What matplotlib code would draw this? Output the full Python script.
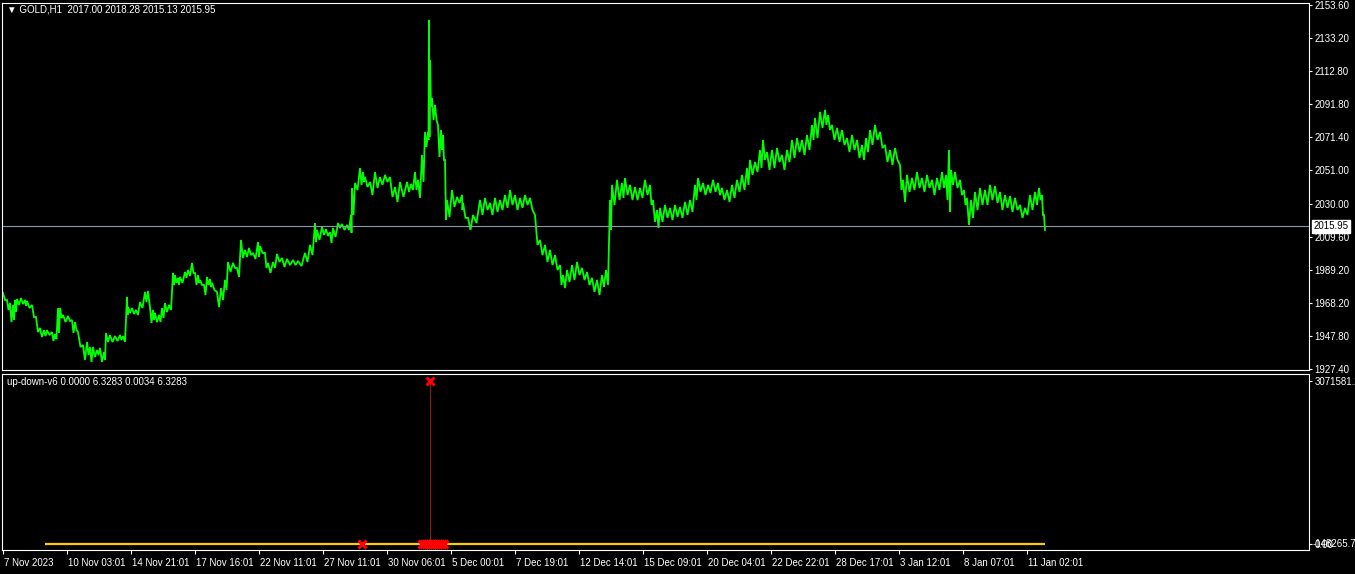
import matplotlib
matplotlib.use("Agg")
from matplotlib import pyplot as plt
import matplotlib.transforms as mtransforms
import numpy as np

plt.rcParams['font.family'] = ['Liberation Sans', 'DejaVu Sans']

# GOLD H1 price: bar where a run starts, its high and low
bar_start = [3, 7, 10, 13, 15, 17, 21, 25, 27, 32, 36, 40, 44, 47, 52, 55, 58, 60, 63, 68,
             72, 75, 78, 83, 87, 90, 93, 97, 100, 104, 106, 110, 115, 120, 123, 127, 128, 132, 136, 140,
             145, 148, 150, 153, 155, 159, 162, 165, 169, 173, 175, 178, 180, 185, 188, 192, 195, 198, 200, 204,
             207, 210, 212, 217, 221, 225, 228, 233, 237, 241, 245, 249, 253, 258, 260, 265, 268, 273, 277, 282,
             287, 293, 298, 305, 310, 315, 317, 322, 326, 330, 333, 338, 342, 347, 351, 352, 355, 360, 363, 365,
             370, 375, 380, 385, 390, 395, 400, 407, 411, 415, 418, 422, 425, 428, 429, 430, 432, 435, 438, 441,
             443, 445, 447, 452, 457, 462, 463, 468, 473, 480, 485, 490, 495, 500, 505, 510, 515, 520, 525, 530,
             535, 540, 545, 550, 555, 560, 563, 567, 572, 577, 582, 587, 592, 597, 602, 606, 610, 612, 617, 622,
             625, 630, 635, 640, 645, 650, 653, 657, 660, 665, 670, 675, 680, 685, 690, 695, 698, 703, 708, 713,
             718, 722, 727, 732, 737, 742, 747, 750, 755, 760, 763, 767, 772, 777, 782, 787, 792, 797, 802, 807,
             812, 815, 820, 825, 828, 832, 837, 842, 847, 852, 857, 862, 866, 870, 875, 880, 885, 890, 895, 900,
             903, 907, 912, 917, 922, 927, 932, 937, 942, 946, 949, 951, 955, 960, 964, 967, 971, 975, 980, 985,
             990, 995, 1000, 1005, 1010, 1015, 1020, 1025, 1030, 1035, 1039, 1042, 1044]
high = [1974.6, 1970.3, 1968.4, 1967.2, 1970.3, 1970.9, 1971.5, 1970.3, 1969.7, 1967.2,
        1959.7, 1952.9, 1951.6, 1951.6, 1950.4, 1949.1, 1965.3, 1965.3, 1961.0, 1960.3,
        1957.9, 1956.6, 1950.4, 1942.3, 1944.2, 1941.1, 1941.1, 1939.2, 1940.5, 1937.9,
        1949.8, 1948.5, 1947.9, 1948.5, 1947.9, 1972.2, 1965.9, 1965.3, 1964.1, 1969.0,
        1975.3, 1975.9, 1965.9, 1964.1, 1962.2, 1961.0, 1965.3, 1968.4, 1967.2, 1987.1,
        1985.8, 1984.0, 1984.6, 1987.7, 1988.9, 1993.3, 1987.1, 1985.8, 1982.7, 1979.6,
        1984.6, 1983.3, 1980.9, 1975.3, 1977.7, 1982.7, 1993.9, 1993.3, 1990.2, 2007.6,
        2001.4, 2002.6, 1999.5, 2006.3, 2003.8, 1999.5, 1993.3, 1993.9, 1998.9, 1996.4,
        1995.8, 1995.1, 1994.5, 1999.5, 2004.5, 2018.1, 2013.8, 2015.6, 2014.4, 2012.5,
        2015.0, 2018.1, 2017.5, 2016.9, 2023.1, 2039.9, 2043.0, 2052.3, 2049.8, 2046.7,
        2043.6, 2049.8, 2046.7, 2048.0, 2046.7, 2040.5, 2043.6, 2043.6, 2042.4, 2049.8,
        2044.9, 2060.4, 2074.7, 2074.7, 2144.3, 2119.4, 2095.8, 2091.4, 2079.0, 2075.9,
        2072.8, 2057.3, 2032.4, 2038.6, 2034.3, 2035.5, 2030.6, 2021.3, 2023.1, 2032.4,
        2033.7, 2030.6, 2033.7, 2032.4, 2035.5, 2038.6, 2035.5, 2033.7, 2035.5, 2033.7,
        2023.1, 2007.6, 2004.5, 2001.4, 1998.2, 1992.0, 1985.8, 1988.9, 1992.0, 1993.9,
        1990.2, 1987.7, 1984.0, 1982.7, 1985.8, 1988.9, 2032.4, 2041.8, 2044.9, 2043.0,
        2046.1, 2041.8, 2040.5, 2039.9, 2044.9, 2041.8, 2032.4, 2026.2, 2027.5, 2029.3,
        2027.5, 2029.3, 2028.1, 2031.2, 2032.4, 2041.8, 2046.1, 2043.0, 2041.8, 2044.9,
        2043.0, 2039.9, 2038.6, 2041.8, 2044.9, 2048.0, 2052.3, 2057.3, 2056.0, 2063.5,
        2069.7, 2062.2, 2063.5, 2064.7, 2060.4, 2063.5, 2069.7, 2070.9, 2069.7, 2072.8,
        2079.0, 2083.4, 2087.1, 2088.4, 2085.2, 2079.0, 2077.2, 2075.9, 2070.9, 2072.8,
        2069.7, 2066.6, 2070.9, 2075.9, 2079.0, 2074.7, 2066.6, 2063.5, 2064.7, 2054.2,
        2044.9, 2048.0, 2046.1, 2049.8, 2046.1, 2048.0, 2044.9, 2046.1, 2049.8, 2048.0,
        2063.5, 2051.1, 2049.8, 2044.9, 2038.6, 2033.7, 2032.4, 2037.4, 2039.9, 2038.6,
        2041.8, 2041.1, 2037.4, 2035.5, 2034.9, 2033.7, 2029.3, 2027.5, 2035.5, 2037.4,
        2039.9, 2035.5, 2023.1]
low = [1970.3, 1964.1, 1956.6, 1957.9, 1962.8, 1967.2, 1967.8, 1966.6, 1965.3, 1959.7,
       1950.4, 1947.3, 1947.9, 1948.5, 1944.8, 1946.0, 1949.8, 1959.1, 1956.6, 1957.2,
       1949.8, 1951.6, 1941.1, 1933.0, 1936.1, 1931.8, 1934.9, 1936.1, 1931.8, 1933.0,
       1944.2, 1944.2, 1944.8, 1945.4, 1944.2, 1961.0, 1962.2, 1961.6, 1961.0, 1965.3,
       1969.0, 1970.3, 1956.0, 1957.9, 1956.6, 1956.6, 1959.1, 1962.8, 1964.1, 1979.6,
       1980.9, 1979.6, 1980.9, 1984.0, 1985.2, 1987.1, 1979.6, 1980.9, 1979.6, 1973.4,
       1979.6, 1978.4, 1976.5, 1965.9, 1970.3, 1976.5, 1987.7, 1990.2, 1984.6, 1996.4,
       1997.0, 1998.2, 1995.8, 1997.0, 1999.5, 1990.2, 1987.1, 1990.2, 1993.9, 1990.8,
       1992.0, 1992.0, 1991.4, 1993.9, 1998.2, 2006.3, 2007.6, 2010.7, 2010.1, 2005.7,
       2009.4, 2015.0, 2013.8, 2013.8, 2012.0, 2023.1, 2038.6, 2041.8, 2043.6, 2040.5,
       2035.5, 2039.9, 2041.8, 2043.6, 2034.3, 2031.2, 2034.3, 2037.4, 2038.6, 2038.6,
       2033.7, 2043.6, 2065.4, 2069.7, 2071.6, 2090.2, 2082.1, 2082.1, 2059.1, 2063.5,
       2057.3, 2020.0, 2021.9, 2028.1, 2030.6, 2026.2, 2021.3, 2013.8, 2018.1, 2023.1,
       2026.2, 2023.1, 2025.0, 2026.2, 2027.5, 2029.3, 2026.2, 2027.5, 2029.3, 2026.2,
       2004.5, 1998.2, 1993.9, 1992.0, 1988.9, 1979.6, 1977.7, 1981.5, 1982.7, 1985.8,
       1982.7, 1979.6, 1975.3, 1973.4, 1978.4, 1979.6, 2013.8, 2029.3, 2032.4, 2033.7,
       2035.5, 2032.4, 2032.4, 2033.7, 2035.5, 2029.3, 2018.8, 2015.0, 2018.8, 2021.3,
       2020.0, 2021.9, 2021.3, 2023.1, 2025.0, 2032.4, 2037.4, 2035.5, 2036.8, 2037.4,
       2035.5, 2032.4, 2031.2, 2033.7, 2037.4, 2038.6, 2041.8, 2048.0, 2049.8, 2052.3,
       2057.3, 2051.1, 2052.3, 2056.0, 2051.1, 2056.0, 2058.5, 2062.2, 2060.4, 2063.5,
       2069.7, 2070.9, 2077.2, 2079.0, 2075.9, 2069.7, 2068.5, 2066.6, 2062.2, 2063.5,
       2058.5, 2057.3, 2062.2, 2066.6, 2069.7, 2064.7, 2056.0, 2054.2, 2057.3, 2038.6,
       2031.2, 2037.4, 2038.6, 2039.9, 2037.4, 2039.9, 2035.5, 2038.6, 2039.9, 2032.4,
       2025.0, 2041.8, 2039.9, 2035.5, 2029.3, 2016.9, 2021.3, 2026.2, 2029.3, 2029.3,
       2032.4, 2030.6, 2026.2, 2027.5, 2025.0, 2026.2, 2021.3, 2023.1, 2026.2, 2029.3,
       2032.4, 2023.1, 2013.8]
last_bar = 1046
last_price = 2015.95

price_ticks = [2153.60, 2133.20, 2112.80, 2091.80, 2071.40, 2051.00,
               2030.00, 2009.60, 1989.20, 1968.20, 1947.80, 1927.40]

time_labels = ['7 Nov 2023', '10 Nov 03:01', '14 Nov 21:01', '17 Nov 16:01', '22 Nov 11:01',
               '27 Nov 11:01', '30 Nov 06:01', '5 Dec 00:01', '7 Dec 19:01', '12 Dec 14:01',
               '15 Dec 09:01', '20 Dec 04:01', '22 Dec 22:01', '28 Dec 17:01', '3 Jan 12:01',
               '8 Jan 07:01', '11 Jan 02:01']
label_step = 64

# up-down-v6 indicator
ind_line_bars = [45, 1045]
ind_line_vals = [0, 0]
ind_hist_bar = 430
ind_hist_val = 3071581.2
ind_marks_bars = [362, 422, 424, 426, 428, 430, 432, 434, 436, 438, 440, 442, 444, 430]
ind_marks_vals = [0, 0, 0, 0, 0, 0, 0, 0, 0, 0, 0, 0, 0, 3071581.2]
ind_max = 3071581.2
ind_min = -148265.7

W, H = 1355, 574
fig = plt.figure(figsize=(W / 100, H / 100), dpi=100, facecolor='black')
ax = fig.add_axes([2 / W, 1 - 370 / H, 1307 / W, 367 / H], facecolor='black')
ax2 = fig.add_axes([2 / W, 1 - 550 / H, 1307 / W, 176 / H], facecolor='black')

for a in (ax, ax2):
    a.set_xlim(2, 1309)
    for s in a.spines.values():
        s.set_color('white')
        s.set_linewidth(0.8)
    a.yaxis.tick_right()
    a.tick_params(axis='y', colors='white', length=2.5, width=0.8, pad=1.5, labelsize=7)

# price bars: zigzag high -> low inside each run of bars
ends = np.append(bar_start[1:], last_bar)
starts = np.array(bar_start, dtype=float)
mids = (starts + ends) / 2.0
zx = np.column_stack([starts, mids]).ravel()
zy = np.column_stack([high, low]).ravel()
ax.plot(zx, zy, color='#00ff00', lw=1.3, solid_joinstyle='miter')
ax.set_ylim(1926.8, 2154.8)
ax.set_yticks(price_ticks)
ax.set_yticklabels(['%.2f' % v for v in price_ticks])
ax.set_xticks([])

ax.axhline(last_price, color='#8c9aa8', lw=0.8)
trans = mtransforms.blended_transform_factory(ax.transAxes, ax.transData)
ax.text(1.0035, last_price, '%.2f' % last_price, transform=trans, ha='left', va='center',
        fontsize=7, color='black',
        bbox=dict(boxstyle='square,pad=0.15', fc='white', ec='white'))

fig.text(7 / W, 1 - 9 / H, '\u25bc GOLD,H1  2017.00 2018.28 2015.13 2015.95',
         color='white', fontsize=7, va='center', ha='left')

# indicator pane
ax2.plot(ind_line_bars, ind_line_vals, color='#ffcc00', lw=1.6, solid_capstyle='butt')
ax2.vlines(ind_hist_bar, 0, ind_hist_val, color='#c83030', lw=0.5)
ax2.plot(ind_marks_bars, ind_marks_vals, ls='none', marker='x', color='red',
         markersize=6, markeredgewidth=2.2)
s = ind_max / 163.0
ax2.set_ylim(-6 * s, ind_max + 7 * s)
ax2.set_yticks([0, ind_max])
ax2.set_yticklabels(['0.00', '%.1f' % ind_max])
trans2 = mtransforms.blended_transform_factory(ax2.transAxes, ax2.transData)
ax2.text(1.0025, 0, '%.1f' % ind_min, transform=trans2, ha='left', va='center',
         fontsize=7, color='white')

tick_pos = [3 + label_step * i for i in range(len(time_labels))]
ax2.set_xticks(tick_pos)
ax2.set_xticklabels(time_labels, ha='left')
ax2.tick_params(axis='x', colors='white', length=3, width=0.8, pad=2.5, labelsize=7)
for t in ax2.get_xticklabels():
    t.set_transform(t.get_transform() + mtransforms.ScaledTranslation(1 / 100, 0, fig.dpi_scale_trans))

fig.text(7 / W, 1 - 382 / H, 'up-down-v6 0.0000 6.3283 0.0034 6.3283',
         color='white', fontsize=7, va='center', ha='left')

fig.savefig('out.png', dpi=100, facecolor='black')
